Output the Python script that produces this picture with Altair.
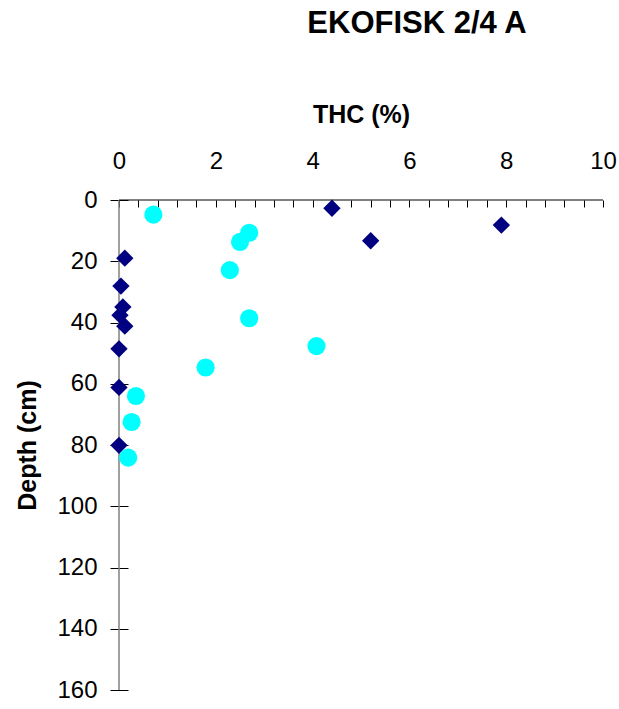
import altair as alt
import pandas as pd

# THC (%) against sediment depth (cm), two sample series
thc_diamond = [4.4, 7.9, 5.2, 0.12, 0.04, 0.08, 0.02, 0.12, 0.0, 0.0, 0.0]
depth_diamond = [2.7, 8.2, 13.3, 19.0, 28.1, 34.9, 37.6, 41.2, 48.6, 61.2, 80.1]

thc_circle = [0.71, 2.69, 2.50, 2.29, 2.69, 4.08, 1.79, 0.35, 0.26, 0.19]
depth_circle = [4.8, 10.7, 13.7, 22.9, 38.6, 47.7, 54.7, 64.0, 72.5, 84.1]

x_ticks = [round(i * 0.4, 1) for i in range(26)]
y_ticks = list(range(0, 161, 20))

FONT = "Liberation Sans"

df_diamond = pd.DataFrame({"thc": thc_diamond, "depth": depth_diamond})
df_circle = pd.DataFrame({"thc": thc_circle, "depth": depth_circle})

x_scale = alt.Scale(domain=[0, 10], nice=False, zero=False)
y_scale = alt.Scale(domain=[0, 160], reverse=True, nice=False, zero=False)

x_axis = alt.Axis(
    orient="top",
    values=x_ticks,
    labelExpr="abs(datum.value - round(datum.value / 2) * 2) < 0.001 ? format(datum.value, 'd') : ''",
    offset=-7,
    tickSize=7,
    tickColor="black",
    tickWidth=1,
    domain=False,
    grid=False,
    labelFont=FONT,
    labelFontSize=24,
    labelColor="black",
    labelBaseline="alphabetic",
    labelPadding=32,
    labelFlush=False,
    labelOverlap=False,
    title="THC (%)",
    titleFont=FONT,
    titleFontSize=25,
    titleFontWeight="bold",
    titleColor="black",
    titleBaseline="alphabetic",
    titleX=242,
    titleY=-85,
)

y_axis = alt.Axis(
    orient="left",
    values=y_ticks,
    offset=-9,
    tickSize=18,
    tickColor="black",
    tickWidth=1,
    domain=False,
    grid=False,
    labelFont=FONT,
    labelFontSize=24,
    labelColor="black",
    labelBaseline="middle",
    labelPadding=13,
    labelFlush=False,
    labelOverlap=False,
    title="Depth (cm)",
    titleFont=FONT,
    titleFontSize=25,
    titleFontWeight="bold",
    titleColor="black",
    titleBaseline="alphabetic",
    titleAngle=270,
    titleX=-93,
    titleY=245,
)

circles = alt.Chart(df_circle).mark_point(
    shape="circle", filled=True, color="#00FFFF", opacity=1, size=330
).encode(
    x=alt.X("thc:Q", scale=x_scale, axis=x_axis),
    y=alt.Y("depth:Q", scale=y_scale, axis=y_axis),
)

diamonds = alt.Chart(df_diamond).mark_point(
    shape="diamond", filled=True, color="#000080", opacity=1, size=300
).encode(
    x=alt.X("thc:Q", scale=x_scale, axis=x_axis),
    y=alt.Y("depth:Q", scale=y_scale, axis=y_axis),
)

# axis lines drawn through the shared scales
one_row = alt.Data(values=[{}])
x_line = alt.Chart(one_row).mark_rule(color="black", strokeWidth=1).encode(
    x=alt.XDatum(0, scale=x_scale, axis=x_axis),
    x2=alt.X2Datum(10),
    y=alt.YDatum(0, scale=y_scale, axis=y_axis),
)
y_line = alt.Chart(one_row).mark_rule(color="#808080", strokeWidth=1.5).encode(
    x=alt.XDatum(0, scale=x_scale, axis=x_axis),
    y=alt.YDatum(0, scale=y_scale, axis=y_axis),
    y2=alt.Y2Datum(160),
)

chart = alt.layer(y_line, x_line, circles, diamonds).properties(
    width=484,
    height=490,
    autosize=alt.AutoSizeParams(type="none"),
    padding={"left": 119, "top": 200, "right": 16, "bottom": 19},
    title=alt.TitleParams(
        "EKOFISK 2/4 A",
        font=FONT,
        fontSize=31,
        fontWeight="bold",
        color="black",
        anchor="middle",
        baseline="alphabetic",
        dx=56,
        dy=-34,
    ),
).configure_view(strokeWidth=0)

chart.save("out.html", embed_options={"renderer": "svg", "actions": False})
